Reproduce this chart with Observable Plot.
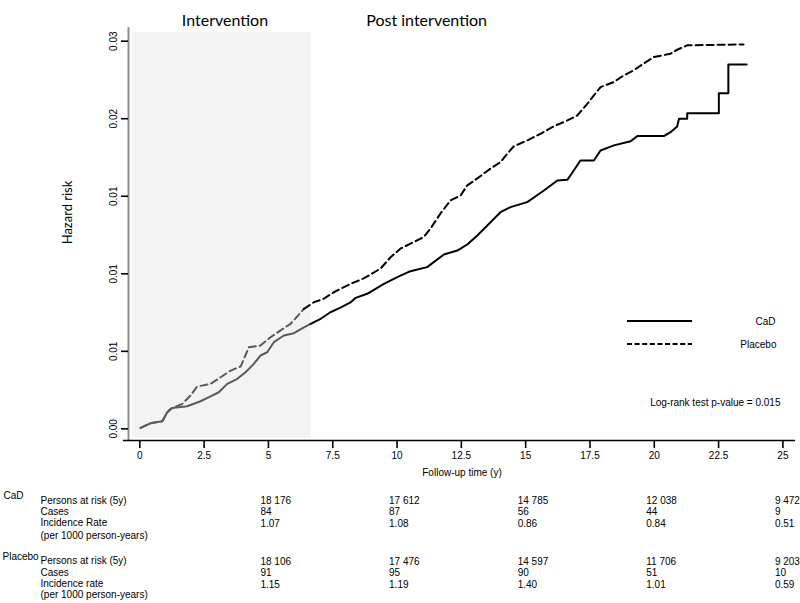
<!DOCTYPE html>
<html><head><meta charset="utf-8">
<script src="https://cdn.jsdelivr.net/npm/d3@7"></script>
<script src="https://cdn.jsdelivr.net/npm/@observablehq/plot@0.6"></script>
<style>
body{margin:0;background:#fff}
#chart{width:800px;height:603px}
</style>
</head><body><div id="chart"></div>
<script>
// ---- data ----
const cadTime = [0.03,0.41,0.87,1.07,1.26,1.84,2.36,2.75,3.07,3.40,3.79,4.11,4.43,4.69,4.95,5.21,5.60,5.99,6.38,6.64,7.03,7.41,7.80,8.19,8.39,8.84,9.49,10.01,10.52,11.17,11.82,12.34,12.73,13.12,13.51,14.02,14.41,15.06,15.71,16.23,16.62,16.87,17.13,17.65,17.91,18.43,19.08,19.34,20.37,20.63,20.89,20.96,21.28,21.28,22.51,22.51,22.88,22.88,23.59];
const cadRisk = [0.000065,0.00036,0.00049,0.00107,0.00135,0.00146,0.00178,0.0021,0.00236,0.0029,0.00323,0.00365,0.00419,0.00473,0.00494,0.00559,0.00602,0.00617,0.00655,0.00677,0.0071,0.00752,0.00782,0.00815,0.00845,0.00871,0.00935,0.00978,0.01017,0.01043,0.01124,0.0115,0.01189,0.01247,0.01311,0.01397,0.0143,0.01462,0.01537,0.01602,0.01606,0.01666,0.01731,0.01731,0.01795,0.01828,0.01855,0.01888,0.01888,0.01913,0.0195,0.0200,0.0200,0.02036,0.02036,0.02165,0.02165,0.0235,0.0235];
const placeboTime = [0.03,0.41,0.87,1.07,1.19,1.65,1.97,2.23,2.75,3.14,3.53,3.92,4.24,4.69,5.08,5.46,5.86,6.38,6.77,7.15,7.54,8.19,8.70,9.36,9.75,10.14,10.64,11.03,11.30,11.69,12.08,12.47,12.73,13.12,13.64,14.02,14.28,14.53,15.06,15.58,16.08,16.62,17.01,17.40,17.65,17.91,18.42,18.81,19.20,19.58,19.97,20.63,20.89,21.28,23.47];
const placeboRisk = [0.000065,0.00036,0.00049,0.00107,0.00129,0.00161,0.00215,0.00273,0.0029,0.00333,0.00376,0.00402,0.00526,0.00537,0.00591,0.00634,0.00677,0.00774,0.00817,0.00839,0.00881,0.00935,0.0097,0.01034,0.01107,0.01163,0.01204,0.01236,0.01292,0.01389,0.01473,0.01505,0.0157,0.01615,0.01679,0.0172,0.01774,0.01821,0.0186,0.01903,0.0195,0.01989,0.02021,0.02097,0.0215,0.02204,0.02236,0.02279,0.02312,0.02355,0.02397,0.02419,0.02445,0.02473,0.02479];

const xTicks = [0,2.5,5,7.5,10,12.5,15,17.5,20,22.5,25];
const yTicks = [0,0.005,0.01,0.015,0.02,0.025];
const yTickLabels = ["0.00","0.01","0.01","0.01","0.02","0.03"];

const interventionStart = -0.28;
const interventionEnd = 6.66;
const phaseNames = ["Intervention","Post intervention"];

const tableYears = [5,10,15,20,25];
const cadAtRisk = ["18 176","17 612","14 785","12 038","9 472"];
const cadCases = ["84","87","56","44","9"];
const cadRate = ["1.07","1.08","0.86","0.84","0.51"];
const placeboAtRisk = ["18 106","17 476","14 597","11 706","9 203"];
const placeboCases = ["91","95","90","51","10"];
const placeboRate = ["1.15","1.19","1.40","1.01","0.59"];
const seriesNames = ["CaD","Placebo"];
const pValueText = "Log-rank test p-value = 0.015";

// ---- layout ----
const xDomain = [-0.44, 25.49];
const yDomain = [-0.00075, 0.02556];
const phaseLabelX = [3.31, 11.15];

function toPts(times, risks){ return times.map((t,i)=>({t, r: risks[i]})); }
function split(pts){
  const i = pts.findIndex(p => p.t > interventionEnd);
  return {pre: pts.slice(0, i), post: pts.slice(i-1)};
}
const cad = split(toPts(cadTime, cadRisk));
const pla = split(toPts(placeboTime, placeboRisk));

const GRAY = "#5a5a5a";
const sans = "'Liberation Sans', Arial, sans-serif";
const hum = "Lato, 'Open Sans', sans-serif";

function rowText(labels, dy){
  return Plot.text(tableYears, {x: d=>d, text: (d,i)=>labels[i], frameAnchor:"bottom", textAnchor:"start", lineAnchor:"middle", dx:-8, dy, fontSize:10, fontFamily: sans});
}
function leftText(str, dx, dy){
  return Plot.text([str], {text: d=>d, frameAnchor:"bottom-left", textAnchor:"start", lineAnchor:"middle", dx, dy, fontSize:10, fontFamily: sans});
}

const legend = (index, scales, values, dims) => {
  const g = d3.create("svg:g");
  const right = dims.width - dims.marginRight;
  const rows = [{y: 321, dash: null}, {y: 344, dash: "5,2.6"}];
  rows.forEach(r => {
    g.append("line").attr("x1", right-168).attr("x2", right-103).attr("y1", r.y).attr("y2", r.y)
      .attr("stroke","#000").attr("stroke-width",1.8).attr("stroke-dasharray", r.dash);
  });
  return g.node();
};

const curve = "linear";

const chart = Plot.plot({
  width: 800, height: 603,
  marginLeft: 128, marginRight: 5, marginTop: 32, marginBottom: 163,
  x: {domain: xDomain},
  y: {domain: yDomain},
  style: {fontFamily: sans, fontSize: "10px", background: "#fff", color: "#000"},
  marks: [
    Plot.rect([0], {x1: interventionStart, x2: interventionEnd, y1: yDomain[0]+0.00015, y2: yDomain[1], fill: "#f3f3f3"}),
    Plot.ruleX([xDomain[0]], {stroke: "#8e8e8e", strokeWidth: 2, y1: yDomain[0], y2: yDomain[1]+0.0003}),
    Plot.ruleY([yDomain[0]], {stroke: "#000", strokeWidth: 1.5, x1: xDomain[0]-0.2, x2: xDomain[1]}),
    Plot.axisY({ticks: yTicks, tickSize: 7, tickFormat: () => "", label: null, strokeWidth: 1.6}),
    Plot.text(yTicks, {y: d=>d, text: (d,i)=>yTickLabels[i], frameAnchor:"left", dx:-14.5, rotate:-90, textAnchor:"middle", lineAnchor:"middle", fontSize:10, fontFamily: sans}),
    Plot.axisX({ticks: xTicks, tickSize: 8, tickPadding: 3, tickFormat: d => String(d), label: null, strokeWidth: 1.6, fontSize: 10, fontFamily: sans}),
    Plot.text(["Follow-up time (y)"], {text: d=>d, frameAnchor:"bottom", textAnchor:"middle", lineAnchor:"middle", dy: 32, fontSize: 10, fontFamily: sans}),
    Plot.text(["Hazard risk"], {text: d=>d, frameAnchor:"left", textAnchor:"middle", lineAnchor:"middle", dx:-61, dy:-24, rotate:-90, fontFamily: hum, fontSize: 13}),
    Plot.text(phaseNames, {x: (d,i)=>phaseLabelX[i], text: d=>d, frameAnchor:"top", dy:-12, lineAnchor:"middle", fontFamily: hum, fontSize: 16}),
    // curves
    Plot.line(cad.pre, {x:"t", y:"r", curve, stroke: GRAY, strokeWidth: 2}),
    Plot.line(pla.pre, {x:"t", y:"r", curve, stroke: GRAY, strokeWidth: 2, strokeDasharray: "7,4"}),
    Plot.line(cad.post, {x:"t", y:"r", curve, stroke: "#000", strokeWidth: 2}),
    Plot.line(pla.post, {x:"t", y:"r", curve, stroke: "#000", strokeWidth: 2, strokeDasharray: "7,4"}),
    // legend
    legend,
    Plot.text([seriesNames[0]], {text: d=>d, frameAnchor:"top-right", textAnchor:"end", lineAnchor:"middle", dx:-20, dy:289, fontSize:10, fontFamily: sans}),
    Plot.text([seriesNames[1]], {text: d=>d, frameAnchor:"top-right", textAnchor:"end", lineAnchor:"middle", dx:-19, dy:312, fontSize:10, fontFamily: sans}),
    Plot.text([pValueText], {text: d=>d, frameAnchor:"bottom-right", textAnchor:"end", lineAnchor:"middle", dx:-15, dy:-38, fontSize:10, fontFamily: sans}),
    // table
    leftText(seriesNames[0], -125, 55),
    leftText("Persons at risk (5y)", -88, 60),
    leftText("Cases", -88, 71),
    leftText("Incidence Rate", -88, 82.7),
    leftText("(per 1000 person-years)", -88, 95),
    rowText(cadAtRisk, 60),
    rowText(cadCases, 71.5),
    rowText(cadRate, 83),
    leftText(seriesNames[1], -126, 116.7),
    leftText("Persons at risk (5y)", -88, 120.5),
    leftText("Cases", -88, 132),
    leftText("Incidence rate", -88, 143.5),
    leftText("(per 1000 person-years)", -88, 154.3),
    rowText(placeboAtRisk, 121),
    rowText(placeboCases, 132.5),
    rowText(placeboRate, 144)
  ]
});
document.getElementById("chart").appendChild(chart);
</script>
</body></html>
